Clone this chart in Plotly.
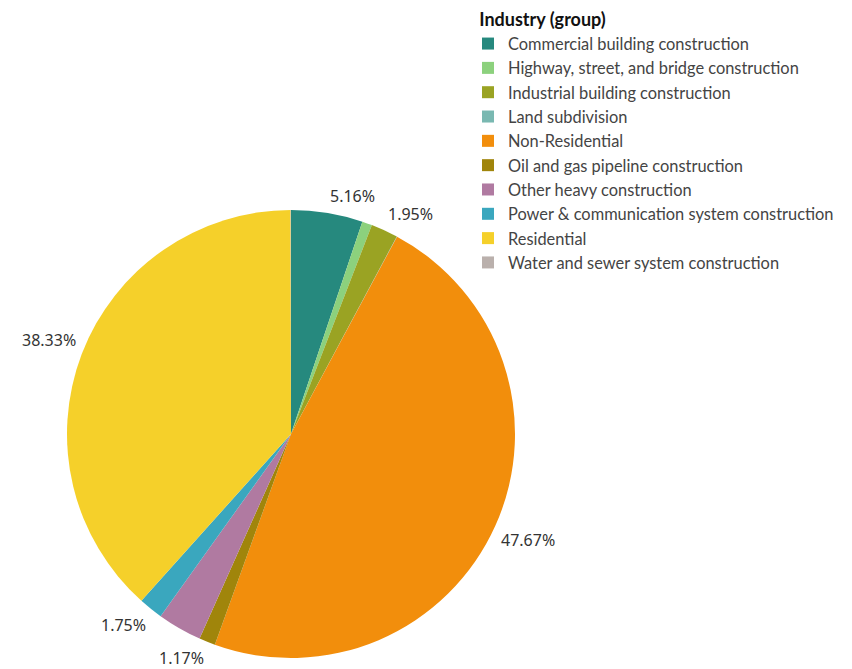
import math
import plotly.graph_objects as go

categories = [
    "Commercial building construction",
    "Highway, street, and bridge construction",
    "Industrial building construction",
    "Land subdivision",
    "Non-Residential",
    "Oil and gas pipeline construction",
    "Other heavy construction",
    "Power & communication system construction",
    "Residential",
    "Water and sewer system construction",
]
shares = [5.16, 0.72, 1.95, 0.02, 47.67, 1.17, 3.20, 1.75, 38.33, 0.03]
shown_labels = ["5.16%", "", "1.95%", "", "47.67%", "1.17%", "", "1.75%", "38.33%", ""]
colors = ["#26897E", "#8CD17D", "#9AA323", "#79B8B1", "#F28E0C",
          "#A0850B", "#B07AA1", "#3AA7BE", "#F5D02A", "#BAB0AC"]

W, H = 852, 669
OFF = 8                       # page body margin shifts the plot by 8 px
CX, CY, R = 291, 434, 224     # pie centre / radius in screen px


def px2paper(x, y):
    return (x - OFF) / W, 1 - (y - OFF) / H


x0, y1 = px2paper(CX - R, CY - R)
x1, y0 = px2paper(CX + R, CY + R)

fig = go.Figure(go.Pie(
    labels=categories,
    values=shares,
    textinfo="none",
    sort=False,
    direction="clockwise",
    rotation=0,
    marker=dict(colors=colors, line=dict(width=0)),
    domain=dict(x=[x0, x1], y=[y0, y1]),
    hoverinfo="label+percent",
))

# slice labels placed just outside each slice's mid-angle
total = sum(shares)
cum = 0.0
annotations = []
for v, lab in zip(shares, shown_labels):
    mid = (cum + v / 2) / total * 2 * math.pi
    cum += v
    if not lab:
        continue
    s, c = math.sin(mid), math.cos(mid)
    rr = R + 4
    ax, ay = px2paper(CX + rr * s, CY - rr * c)
    annotations.append(dict(
        x=ax, y=ay, xref="paper", yref="paper",
        text=lab, showarrow=False,
        xanchor="left" if s >= 0 else "right",
        yanchor="bottom" if c >= 0 else "top",
        font=dict(size=16, color="#333333"),
    ))

lx, ly = px2paper(468, 3)
fig.update_layout(
    width=W, height=H,
    margin=dict(l=0, r=0, t=0, b=0, autoexpand=False),
    paper_bgcolor="white",
    font=dict(family="Noto Sans, Open Sans, sans-serif", color="#333333"),
    annotations=annotations,
    legend=dict(
        title=dict(text="&nbsp;&nbsp;<b>Industry (group)</b>",
                   font=dict(family="Lato, Noto Sans, sans-serif", size=18, color="#111111")),
        x=lx, y=ly, xanchor="left", yanchor="top",
        font=dict(family="Lato, Noto Sans, sans-serif", size=16.4, color="#444444"),
        traceorder="normal",
        itemclick=False,
    ),
)

fig.write_html("out.html")
